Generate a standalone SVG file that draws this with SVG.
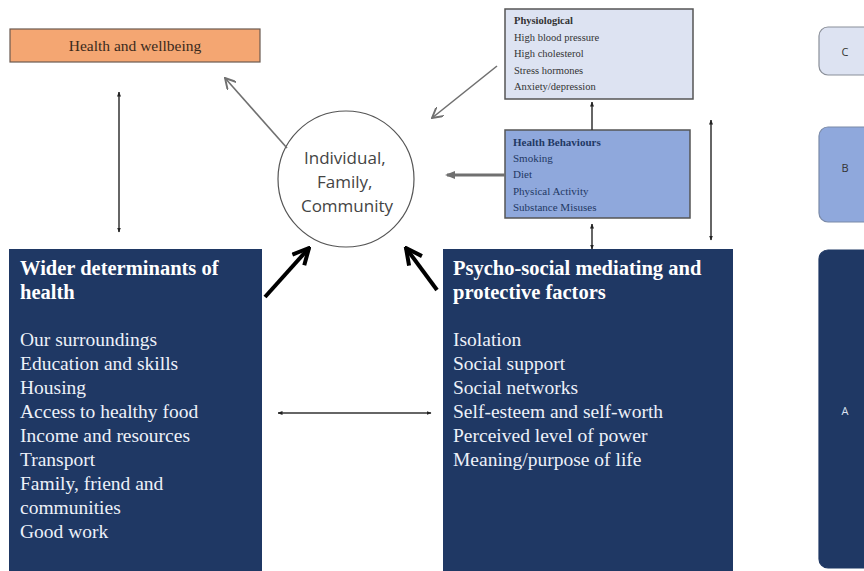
<svg xmlns="http://www.w3.org/2000/svg" width="864" height="571" viewBox="0 0 864 571">
<defs>
<style>
.serif{font-family:"Liberation Serif","Times New Roman",serif}
.sans{font-family:"Open Sans","Liberation Sans",Arial,sans-serif}
.navy{fill:#1f3864}
.wt{fill:#edf1f9;font-size:19.5px}
.wtb{fill:#ffffff;font-size:20.5px;font-weight:bold}
.sm{font-size:11px}
.thin{stroke:#333;stroke-width:1.5;fill:none}
.gray{stroke:#707070;stroke-width:1.6;fill:none}
.thick{stroke:#000;stroke-width:4;fill:none}
</style>
<marker id="ah" viewBox="0 0 10 10" refX="9" refY="5" markerWidth="5" markerHeight="5" orient="auto-start-reverse" markerUnits="userSpaceOnUse"><path d="M0,1 L10,5 L0,9 z" fill="#222"/></marker>
<marker id="ahg" viewBox="0 0 10 10" refX="9" refY="5" markerWidth="12" markerHeight="12" orient="auto" markerUnits="userSpaceOnUse"><path d="M0,0 L9,5 L0,10" fill="none" stroke="#707070" stroke-width="1.6"/></marker>
<marker id="ahf" viewBox="0 0 10 10" refX="8" refY="5" markerWidth="10" markerHeight="10" orient="auto" markerUnits="userSpaceOnUse"><path d="M0,1 L10,5 L0,9 z" fill="#707070"/></marker>
<marker id="ahk" viewBox="0 0 10 10" refX="9" refY="5" markerWidth="20" markerHeight="20" orient="auto" markerUnits="userSpaceOnUse"><path d="M1,1 L9,5 L1,9" fill="none" stroke="#000" stroke-width="2"/></marker>
</defs>
<rect width="864" height="571" fill="#ffffff"/>

<g id="health-wellbeing">
<rect x="10" y="29" width="250" height="33" fill="#f4a672" stroke="#6b5a50" stroke-width="1.2"/>
<text x="135" y="51" class="serif" font-size="15.5" fill="#3b2a1c" text-anchor="middle">Health and wellbeing</text>
</g>

<g id="physiological">
<rect x="505" y="9" width="188" height="90" fill="#dde3f2" stroke="#555" stroke-width="1.5"/>
<text class="serif" font-size="10.5" fill="#333">
<tspan x="514" y="24" font-weight="bold">Physiological</tspan>
<tspan x="514" y="41">High blood pressure</tspan>
<tspan x="514" y="57">High cholesterol</tspan>
<tspan x="514" y="74">Stress hormones</tspan>
<tspan x="514" y="90">Anxiety/depression</tspan>
</text>
</g>

<g id="health-behaviours">
<rect x="505" y="130" width="185" height="88" fill="#8fa8dc" stroke="#555" stroke-width="1.5"/>
<text class="serif sm" fill="#1f3864">
<tspan x="513" y="146" font-weight="bold">Health Behaviours</tspan>
<tspan x="513" y="162">Smoking</tspan>
<tspan x="513" y="178">Diet</tspan>
<tspan x="513" y="195">Physical Activity</tspan>
<tspan x="513" y="211">Substance Misuses</tspan>
</text>
</g>

<g id="individual">
<circle cx="346" cy="179" r="68" fill="#fff" stroke="#555" stroke-width="1.2"/>
<text class="sans" font-size="17" fill="#444" text-anchor="middle">
<tspan x="347" y="164">Individual,</tspan>
<tspan x="347" y="188">Family,</tspan>
<tspan x="347" y="212">Community</tspan>
</text>
</g>

<g id="wider-determinants">
<rect x="9" y="249" width="253" height="322" class="navy"/>
<text class="serif">
<tspan x="20" y="275" class="wtb">Wider determinants of</tspan>
<tspan x="20" y="299" class="wtb">health</tspan>
<tspan x="20" y="346" class="wt">Our surroundings</tspan>
<tspan x="20" y="370" class="wt">Education and skills</tspan>
<tspan x="20" y="394" class="wt">Housing</tspan>
<tspan x="20" y="418" class="wt">Access to healthy food</tspan>
<tspan x="20" y="442" class="wt">Income and resources</tspan>
<tspan x="20" y="466" class="wt">Transport</tspan>
<tspan x="20" y="490" class="wt">Family, friend and</tspan>
<tspan x="20" y="514" class="wt">communities</tspan>
<tspan x="20" y="538" class="wt">Good work</tspan>
</text>
</g>

<g id="psycho-social">
<rect x="443" y="249" width="290" height="322" class="navy"/>
<text class="serif">
<tspan x="453" y="275" class="wtb">Psycho-social mediating and</tspan>
<tspan x="453" y="299" class="wtb">protective factors</tspan>
<tspan x="453" y="346" class="wt">Isolation</tspan>
<tspan x="453" y="370" class="wt">Social support</tspan>
<tspan x="453" y="394" class="wt">Social networks</tspan>
<tspan x="453" y="418" class="wt">Self-esteem and self-worth</tspan>
<tspan x="453" y="442" class="wt">Perceived level of power</tspan>
<tspan x="453" y="466" class="wt">Meaning/purpose of life</tspan>
</text>
</g>

<g id="legend-c">
<rect x="819" y="27" width="60" height="48" rx="9" fill="#dde3f2" stroke="#8a8f99" stroke-width="1.2"/>
<text x="845" y="56" class="sans" font-size="11" fill="#333" text-anchor="middle">C</text>
</g>
<g id="legend-b">
<rect x="819" y="127" width="60" height="95" rx="9" fill="#8fa8dc" stroke="#7a8aa8" stroke-width="1.2"/>
<text x="845" y="172" class="sans" font-size="11" fill="#333" text-anchor="middle">B</text>
</g>
<g id="legend-a">
<rect x="819" y="250" width="60" height="318" rx="9" fill="#1f3864" stroke="#1f3864" stroke-width="1.2"/>
<text x="845" y="415" class="sans" font-size="11" fill="#dde3f2" text-anchor="middle">A</text>
</g>

<g id="connectors">
<line x1="119" y1="92" x2="119" y2="232" class="thin" marker-start="url(#ah)" marker-end="url(#ah)"/>
<line x1="287" y1="148" x2="225" y2="78" class="gray" marker-end="url(#ahg)"/>
<line x1="497" y1="66" x2="432" y2="118" class="gray" marker-end="url(#ahg)"/>
<line x1="505" y1="175" x2="447" y2="175" stroke="#707070" stroke-width="3" marker-end="url(#ahf)"/>
<line x1="265" y1="297" x2="309" y2="248" class="thick" marker-end="url(#ahk)"/>
<line x1="437" y1="290" x2="406" y2="248" class="thick" marker-end="url(#ahk)"/>
<line x1="592" y1="130" x2="592" y2="102" class="thin" marker-end="url(#ah)"/>
<line x1="592" y1="224" x2="592" y2="249" class="thin" marker-start="url(#ah)" marker-end="url(#ah)"/>
<line x1="711" y1="120" x2="711" y2="240" class="thin" marker-start="url(#ah)" marker-end="url(#ah)"/>
<line x1="278" y1="413" x2="431" y2="413" class="thin" marker-start="url(#ah)" marker-end="url(#ah)"/>
</g>
</svg>
